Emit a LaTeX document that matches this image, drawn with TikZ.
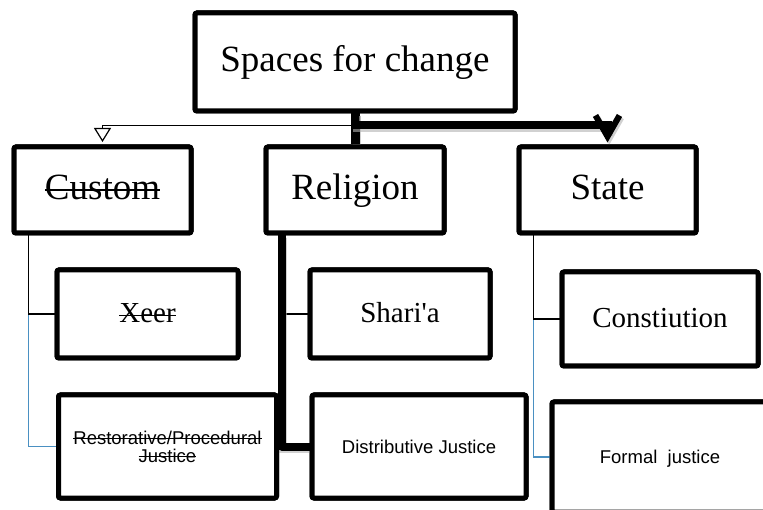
\documentclass[tikz,border=0pt]{standalone}
\usepackage{fontspec}
\setmainfont{Liberation Serif}
\setsansfont{Liberation Sans}
\usetikzlibrary{arrows.meta,calc}

% struck-through text: \strk{thickness}{text}
\newsavebox{\strkbox}
\newcommand{\strk}[2]{\sbox{\strkbox}{#2}%
  \rlap{\usebox{\strkbox}}%
  \rule[\dimexpr0.58ex-0.5\dimexpr#1\relax\relax]{\wd\strkbox}{#1}}

\begin{document}
\begin{tikzpicture}[x=1pt,y=-1pt,
  box/.style={draw=black, line width=5pt, rounded corners=2pt, fill=white,
    inner sep=0pt, align=center},
  bigtxt/.style={font=\fontsize{37}{40}\selectfont, text height=28pt, text depth=8pt},
  midtxt/.style={font=\fontsize{29}{32}\selectfont, text height=24pt, text depth=6pt},
  smalltxt/.style={font=\sffamily\fontsize{18.5}{19}\selectfont, text height=13pt, text depth=0pt},
  twoline/.style={font=\sffamily\fontsize{18.5}{19}\selectfont},
  thinlink/.style={draw=black, line width=1.2pt},
  bluelink/.style={draw=linkblue, line width=1.2pt},
  heavylink/.style={draw=black, line width=8pt,
    preaction={draw=black!30, line width=8pt, opacity=0.6,
      transform canvas={shift={(1.8pt,-2.2pt)}}}},
]
\definecolor{linkblue}{RGB}{74,144,194}
\useasboundingbox (0,0) rectangle (763,510);
\clip (0,0) rectangle (763,510);

% place the boxes first (empty), so the links can refer to them
\path
  (355,62)      node[box, minimum width=320pt, minimum height=98pt] (top) {}
  (102.5,190)   node[box, minimum width=177pt, minimum height=86pt] (custom) {}
  (355,190)     node[box, minimum width=178pt, minimum height=86pt] (religion) {}
  (607.5,190)   node[box, minimum width=177pt, minimum height=86pt] (state) {}
  (147.5,314)   node[box, minimum width=181pt, minimum height=88pt] (xeer) {}
  (167.5,446.5) node[box, minimum width=218pt, minimum height=103pt] (restor) {}
  (400,314)     node[box, minimum width=180pt, minimum height=88pt] (sharia) {}
  (419,446.5)   node[box, minimum width=214pt, minimum height=103pt] (distrib) {}
  (660,319)     node[box, minimum width=196pt, minimum height=94pt] (constit) {}
  (660,457)     node[box, minimum width=216pt, minimum height=110pt] (formal) {};

% top level links
\draw[thinlink, -{Triangle[open, length=14pt, width=17pt, line width=1.2pt]}, shorten >=2.5pt]
  (top.south) |- ([yshift=19pt]custom.north) -- (custom.north);
\draw[heavylink, line width=9pt] (top.south) -- (religion.north);
\draw[heavylink, line join=miter,
  -{Straight Barb[length=21pt, width=24pt, line width=6pt]}, shorten >=2pt]
  (top.south) |- ([yshift=19pt]state.north) -- (state.north);

% custom branch
\draw[bluelink] ([xshift=17pt]custom.south west) |- (restor.west);
\draw[thinlink] ([xshift=17pt]custom.south west) |- (xeer.west);

% religion branch
\draw[thinlink] ([xshift=18pt]religion.south west) |- (sharia.west);
\draw[heavylink, line join=round] ([xshift=18pt]religion.south west) |- (distrib.west);

% state branch
\draw[bluelink] ([xshift=17pt]state.south west) |- (formal.west);
\draw[thinlink] ([xshift=17pt]state.south west) |- (constit.west);

% boxes with their texts
\node[box, bigtxt, minimum width=320pt, minimum height=98pt] at (top) {Spaces for change};
\node[box, bigtxt, minimum width=177pt, minimum height=86pt] at (custom) {\strk{1.8pt}{Custom}};
\node[box, bigtxt, minimum width=178pt, minimum height=86pt] at (religion) {Religion};
\node[box, bigtxt, minimum width=177pt, minimum height=86pt] at (state) {State};
\node[box, midtxt, minimum width=181pt, minimum height=88pt] at (xeer) {\strk{1.4pt}{Xeer}};
\node[box, midtxt, minimum width=180pt, minimum height=88pt] at (sharia) {Shari\textquotesingle a};
\node[box, midtxt, minimum width=196pt, minimum height=94pt] at (constit) {Constiution};
\node[box, twoline, minimum width=218pt, minimum height=103pt] at (restor)
  {\strk{1.1pt}{Restorative/Procedural}\\[-1pt]\strk{1.1pt}{Justice}};
\node[box, smalltxt, minimum width=214pt, minimum height=103pt] at (distrib) {Distributive Justice};
\node[box, smalltxt, minimum width=216pt, minimum height=110pt] at (formal) {Formal\ \ justice};
\end{tikzpicture}
\end{document}
